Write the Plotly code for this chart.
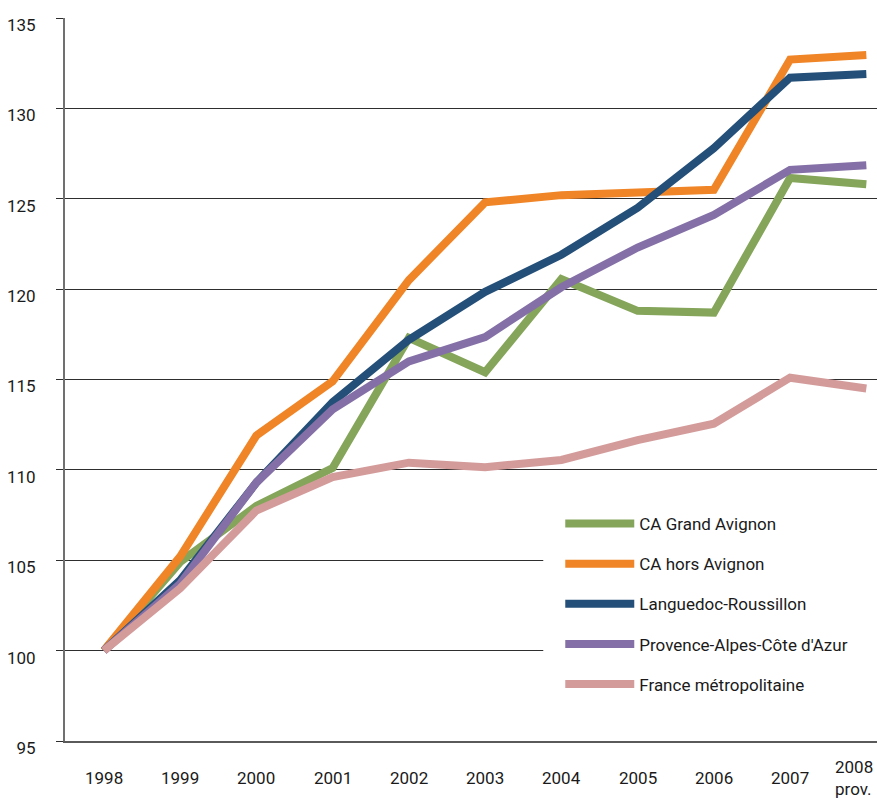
"""
Indice d'évolution 1998-2008 (base 100 en 1998)
"""
import plotly.graph_objects as go

YEARS = [1998, 1999, 2000, 2001, 2002, 2003, 2004, 2005, 2006, 2007, 2008]
YEAR_LABELS = ["1998", "1999", "2000", "2001", "2002", "2003", "2004",
               "2005", "2006", "2007", "2008<br>prov."]

GRAND_AVIGNON = [100, 104.9, 108.0, 110.1, 117.3, 115.4, 120.55, 118.8, 118.7, 126.15, 125.8]
HORS_AVIGNON = [100, 105.2, 111.9, 114.9, 120.5, 124.8, 125.2, 125.35, 125.5, 132.7, 132.95]
LANGUEDOC = [100, 103.9, 109.3, 113.75, 117.2, 119.85, 121.9, 124.5, 127.8, 131.7, 131.9]
PACA = [100, 103.7, 109.3, 113.35, 116.0, 117.35, 120.1, 122.3, 124.1, 126.6, 126.85]
FRANCE = [100, 103.45, 107.75, 109.6, 110.4, 110.15, 110.55, 111.65, 112.55, 115.1, 114.5]

SERIES = [
    ("CA Grand Avignon", GRAND_AVIGNON, "#84a55a"),
    ("CA hors Avignon", HORS_AVIGNON, "#f08527"),
    ("Languedoc-Roussillon", LANGUEDOC, "#244f78"),
    ("Provence-Alpes-Côte d'Azur", PACA, "#8470a6"),
    ("France métropolitaine", FRANCE, "#d49b9b"),
]

FONT = "Roboto, 'Noto Sans', sans-serif"
TEXT_COLOR = "#1a1a1a"

fig = go.Figure()
for name, values, color in SERIES:
    fig.add_trace(go.Scatter(
        x=YEARS, y=values, name=name, mode="lines",
        legendgroup=name,
        line=dict(color=color, width=8),
    ))

# x labels as annotations so that the two-line "2008 prov." is centred
for i, (year, label) in enumerate(zip(YEARS, YEAR_LABELS)):
    last = i == len(YEARS) - 1
    fig.add_annotation(
        x=year, y=0, xref="x", yref="paper", yanchor="middle",
        yshift=-37, xshift=-12 if last else 0, align="left",
        text=label, showarrow=False,
        font=dict(family=FONT, size=17, color=TEXT_COLOR),
    )

# white panel behind the legend hides the lower grid lines
fig.add_shape(
    type="rect", xref="paper", yref="paper",
    x0=0.589, x1=1.0, y0=0.01, y1=0.33,
    fillcolor="white", line_width=0, layer="above",
)

fig.update_layout(
    width=877, height=798,
    margin=dict(l=65, r=0, t=18, b=57),
    paper_bgcolor="white", plot_bgcolor="white",
    font=dict(family=FONT, size=17, color=TEXT_COLOR),
    showlegend=True,
    legend=dict(
        x=0.589, xanchor="left", y=0.325, yanchor="top",
        bgcolor="rgba(0,0,0,0)", borderwidth=0,
        itemwidth=69, tracegroupgap=15, indentation=17,
        font=dict(family=FONT, size=17, color=TEXT_COLOR),
    ),
)
fig.update_xaxes(
    range=[1997.49, 2008.14], showgrid=False, zeroline=False,
    showticklabels=False, ticks="",
    showline=True, linecolor="#5a5a5a", linewidth=2,
)
fig.update_yaxes(
    range=[95, 135], dtick=5, tick0=95,
    showgrid=True, gridcolor="#2e2e2e", gridwidth=1, zeroline=False,
    ticks="outside", ticklen=7, tickcolor="#2e2e2e",
    ticklabelstandoff=17, ticklabelshift=7,
    showline=True, linecolor="#707070", linewidth=2,
    tickfont=dict(family=FONT, size=17, color=TEXT_COLOR),
)

fig.write_html(
    "out.html",
    config={"displayModeBar": False},
    post_script="document.body.style.margin='0';document.body.style.overflow='hidden';",
)
